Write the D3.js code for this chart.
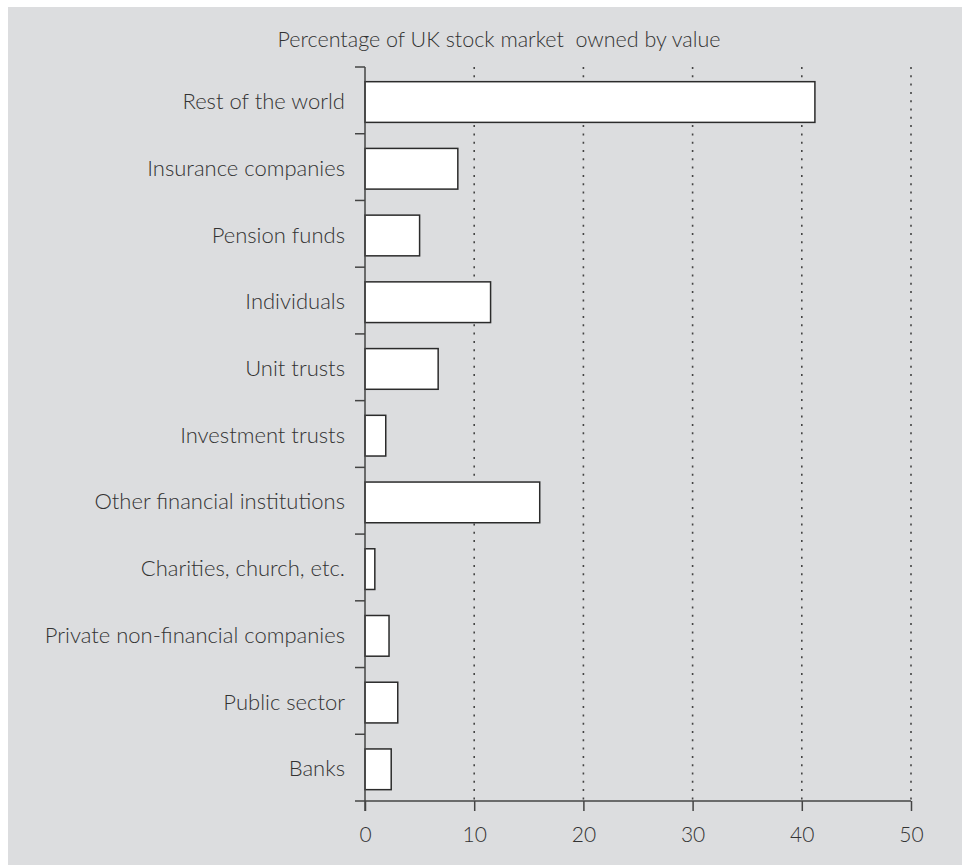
<!DOCTYPE html>
<html>
<head>
<meta charset="utf-8">
<script src="https://cdn.jsdelivr.net/npm/d3@7"></script>
<style>
    html, body { margin: 0; padding: 0; background: #ffffff; }
    svg { display: block; }
    text { font-family: Lato, "Open Sans", sans-serif; font-weight: 300; fill: #333; }
</style>
</head>
<body>
<div id="chart"></div>
<script>
// Chart data
const categories = [
    "Rest of the world",
    "Insurance companies",
    "Pension funds",
    "Individuals",
    "Unit trusts",
    "Investment trusts",
    "Other financial institutions",
    "Charities, church, etc.",
    "Private non-financial companies",
    "Public sector",
    "Banks"
];
const values = [41.2, 8.5, 5.0, 11.5, 6.7, 1.9, 16.0, 0.9, 2.2, 3.0, 2.4];
const xTicks = [0, 10, 20, 30, 40, 50];
const title = "Percentage of UK stock market  owned by value";

const width = 962, height = 867;
const margin = { top: 67, right: 51, bottom: 66, left: 365 };

const svg = d3.select("#chart").append("svg")
    .attr("width", width)
    .attr("height", height);

// grey panel
svg.append("rect")
    .attr("x", 8).attr("y", 7)
    .attr("width", width - 8).attr("height", height - 9)
    .attr("fill", "#dcdddf");

const x = d3.scaleLinear()
    .domain([0, 50])
    .range([margin.left, width - margin.right]);

const y = d3.scaleBand()
    .domain(categories)
    .range([margin.top, height - margin.bottom]);

// Dotted gridlines
svg.selectAll(".grid")
    .data(xTicks.filter(d => d > 0))
    .enter().append("line")
    .attr("class", "grid")
    .attr("x1", d => x(d)).attr("x2", d => x(d))
    .attr("y1", margin.top).attr("y2", height - margin.bottom)
    .attr("stroke", "#444")
    .attr("stroke-width", 1.6)
    .attr("stroke-dasharray", "2,6.3");

// Bars
const bh = y.bandwidth();
svg.selectAll(".bar")
    .data(categories)
    .enter().append("rect")
    .attr("class", "bar")
    .attr("x", x(0))
    .attr("y", d => y(d) + bh * 0.22)
    .attr("width", (d, i) => x(values[i]) - x(0))
    .attr("height", bh * 0.61)
    .attr("fill", "#ffffff")
    .attr("stroke", "#2b2b2b")
    .attr("stroke-width", 1.5);

// Y axis line and boundary ticks
svg.append("line")
    .attr("x1", x(0)).attr("x2", x(0))
    .attr("y1", margin.top).attr("y2", height - margin.bottom + 10)
    .attr("stroke", "#444").attr("stroke-width", 1.5);

svg.selectAll(".ytick")
    .data(categories)
    .enter().append("line")
    .attr("class", "ytick")
    .attr("x1", x(0) - 10).attr("x2", x(0))
    .attr("y1", d => y(d)).attr("y2", d => y(d))
    .attr("stroke", "#444").attr("stroke-width", 1.5);

svg.selectAll(".ylabel")
    .data(categories)
    .enter().append("text")
    .attr("class", "ylabel")
    .attr("x", x(0) - 20)
    .attr("y", d => y(d) + bh / 2 + 1)
    .attr("dy", "0.35em")
    .attr("text-anchor", "end")
    .style("font-size", "22px")
    .text(d => d);

// X axis
const xAxis = svg.append("g")
    .attr("transform", `translate(0,${height - margin.bottom})`)
    .call(d3.axisBottom(x).tickValues(xTicks).tickSize(10).tickPadding(16));
xAxis.select(".domain").remove();
xAxis.selectAll(".tick line").attr("stroke", "#444").attr("stroke-width", 1.5);
xAxis.selectAll(".tick text")
    .style("font-size", "21px")
    .attr("fill", "#333");
xAxis.append("line")
    .attr("x1", x(0) - 10).attr("x2", x(50))
    .attr("y1", 0).attr("y2", 0)
    .attr("stroke", "#444").attr("stroke-width", 1.5);

// Title
svg.append("text")
    .attr("x", 499)
    .attr("y", 47)
    .attr("text-anchor", "middle")
    .style("font-size", "21.5px")
    .style("white-space", "pre")
    .text(title);
</script>
</body>
</html>
